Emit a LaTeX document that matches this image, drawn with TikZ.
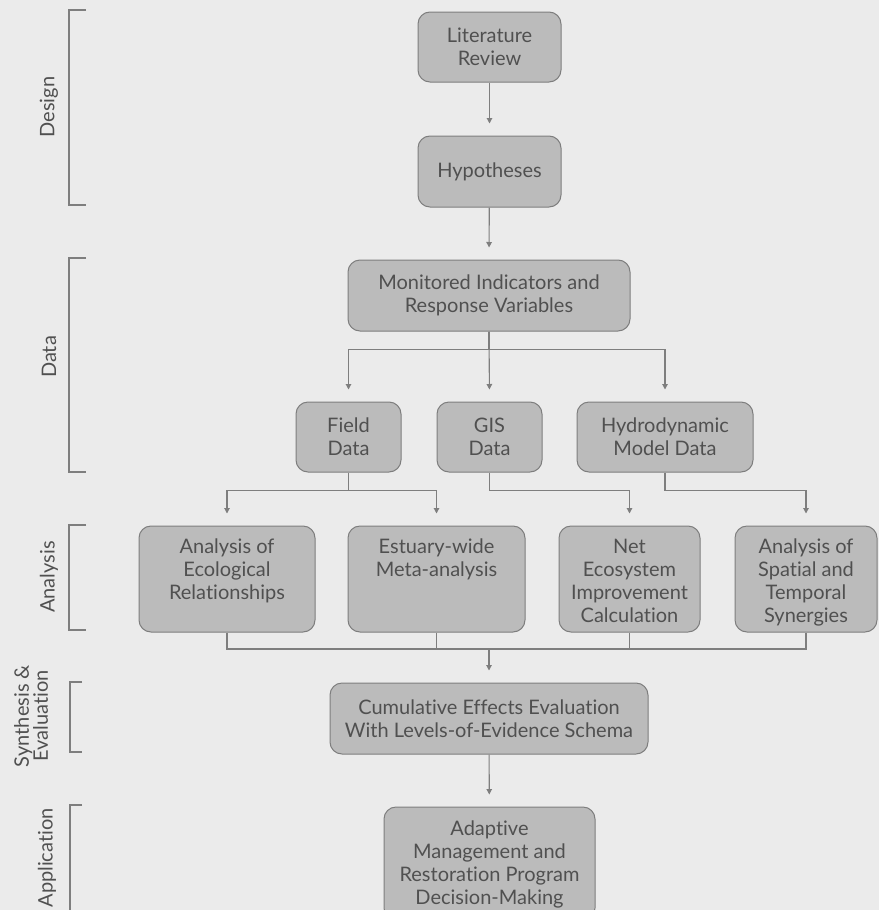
\documentclass[tikz,border=0pt]{standalone}
\usepackage{fontspec}
\setmainfont{Lato}[Ligatures=NoCommon, RawFeature={-liga;-clig;-dlig}]
\usetikzlibrary{arrows.meta}
\definecolor{bggray}{HTML}{EBEBEB}
\definecolor{boxgray}{HTML}{BBBBBB}
\definecolor{edgegray}{HTML}{7E7E7E}
\definecolor{txtgray}{HTML}{505050}
\begin{document}
\begin{tikzpicture}[x=1pt,y=-1pt,
box/.style={draw=edgegray, fill=boxgray, rounded corners=12pt, line width=1pt, text=txtgray, align=center, font=\fontsize{20}{23}\selectfont, inner sep=0pt},
boxtext/.style={text=txtgray, align=center, font=\fontsize{20}{23}\selectfont, anchor=north, inner sep=0pt},
arr/.style={draw=edgegray, line width=1.1pt, -{Triangle[length=5.5pt,width=5.5pt]}, shorten >=12pt},
lne/.style={draw=edgegray, line width=1.1pt},
brk/.style={draw=edgegray, line width=1.1pt},
phase/.style={text=txtgray, rotate=90, align=center, font=\fontsize{20}{19}\selectfont, inner sep=0pt}]
\useasboundingbox (0,0) rectangle (879,910);
\fill[bggray] (0,0) rectangle (879,910);

\draw[brk] (86,10) -- (69,10) -- (69,205) -- (86,205);
\draw[brk] (86,258) -- (69,258) -- (69,472) -- (86,472);
\draw[brk] (86,525) -- (69,525) -- (69,630) -- (86,630);
\draw[brk] (82,682) -- (70,682) -- (70,752) -- (82,752);
\draw[brk] (82,805) -- (70,805) -- (70,915);
\node[phase] (design) at (49,107) {Design};
\node[phase] (data) at (49,357) {Data};
\node[phase] (analysis) at (49,577) {Analysis};
\node[phase] (synth) at (31,716) {Synthesis \&\\Evaluation};
\node[phase, anchor=east] (appl) at (47,808) {Application};

\node[box, minimum width=143, minimum height=70] (lit) at (489.5,47) {Literature\\Review};
\node[box, minimum width=143, minimum height=71] (hyp) at (489.5,171.5) {Hypotheses};
\node[box, minimum width=282, minimum height=71] (mon) at (489,295.5) {Monitored Indicators and\\Response Variables};
\node[box, minimum width=105, minimum height=70] (field) at (348.5,437) {Field\\Data};
\node[box, minimum width=105, minimum height=70] (gis) at (489.5,437) {GIS\\Data};
\node[box, minimum width=176, minimum height=70] (hydro) at (665,437) {Hydrodynamic\\Model Data};

\node[box, minimum width=176, minimum height=106] (ecol) at (227,579) {};
\node[boxtext] (ecoltxt) at (227,539) {Analysis of\\Ecological\\Relationships};
\node[box, minimum width=177, minimum height=106] (meta) at (436.5,579) {};
\node[boxtext] (metatxt) at (436.5,539) {Estuary-wide\\Meta-analysis};
\node[box, minimum width=141, minimum height=106] (net) at (629.5,579) {};
\node[boxtext] (nettxt) at (629.5,539) {Net\\Ecosystem\\Improvement\\Calculation};
\node[box, minimum width=142, minimum height=106] (syn) at (806,579) {};
\node[boxtext] (syntxt) at (806,539) {Analysis of\\Spatial and\\Temporal\\Synergies};

\node[box, minimum width=318, minimum height=71] (cum) at (489,718.5) {Cumulative Effects Evaluation\\With Levels-of-Evidence Schema};
\node[box, minimum width=211, minimum height=113] (adapt) at (489.5,863.5) {};
\node[boxtext] (adapttxt) at (489.5,821) {Adaptive\\Management and\\Restoration Program\\Decision-Making};

\draw[arr] (lit) -- (hyp);
\draw[arr] (hyp) -- (mon.north);
\draw[arr] (mon.south) -- ++(0,18) -| (field.north);
\draw[arr] (mon.south) -- (gis.north);
\draw[arr] (mon.south) -- ++(0,18) -| (hydro.north);
\draw[arr] (field.south) -- ++(0,18) -| (ecol.north);
\draw[arr] (field.south) -- ++(0,18) -| (meta.north);
\draw[arr] (gis.south) -- ++(0,18) -| (net.north);
\draw[arr] (hydro.south) -- ++(0,18) -| (syn.north);
\coordinate (merge) at (489,649);
\draw[lne] (ecol.south) |- (merge);
\draw[lne] (syn.south) |- (merge);
\draw[lne] (meta.south) -- (meta.south |- merge);
\draw[lne] (net.south) -- (net.south |- merge);
\draw[arr] (merge) -- (cum.north);
\draw[arr] (cum) -- (adapt);

\end{tikzpicture}
\end{document}
